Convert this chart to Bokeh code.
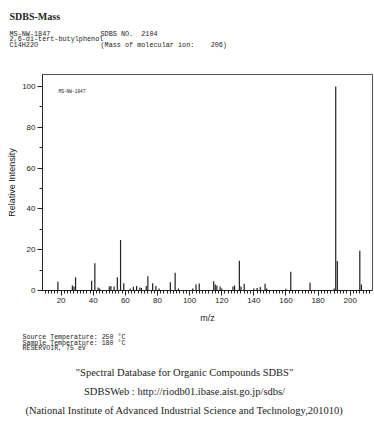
from bokeh.plotting import figure
from bokeh.models import Range1d, Label, SingleIntervalTicker
from bokeh.layouts import column
from bokeh.core.properties import value
from bokeh.embed import file_html
from bokeh.resources import INLINE

# m/z values and relative intensities
mz = [18, 27, 28, 29, 39, 41, 43, 44, 50, 51, 53, 55, 57, 59, 63, 65, 67, 69, 70,
      73, 74, 77, 79, 81, 88, 91, 93, 102, 104, 106, 115, 116, 117, 119, 120,
      127, 128, 131, 132, 134, 140, 142, 144, 147, 148, 160, 163, 175, 190,
      191, 192, 206, 207]
intensity = [4.3, 2.4, 2.0, 6.5, 4.8, 13.3, 1.5, 1.0, 2.0, 2.2, 2.0, 6.5, 24.8, 3.6, 1.0, 1.8, 2.2, 1.5, 1.2,
             2.2, 7.0, 3.6, 2.2, 1.0, 4.0, 8.7, 1.0, 1.0, 3.0, 3.4, 4.5, 3.0, 2.5, 2.0, 1.0,
             2.0, 2.5, 14.6, 2.0, 3.3, 1.0, 1.2, 1.7, 3.3, 1.0, 0.8, 9.2, 3.8, 1.0,
             100.0, 14.5, 19.5, 3.0]

NB = "\u00a0"
header_title = "SDBS-Mass"
header_left = ["MS-NW-1847", "2,6-di-tert-butylphenol", "C14H22O"]
header_right = ["SDBS" + NB + "NO." + NB * 2 + "2104", "",
                "(Mass" + NB + "of" + NB + "molecular" + NB + "ion:" + NB * 4 + "206)"]
inner_code = "MS-NW-1847"
cond_lines = ["Source" + NB + "Temperature:" + NB + "250" + NB + "\u00b0C",
              "Sample" + NB + "Temperature:" + NB + "180" + NB + "\u00b0C",
              "RESERVOIR," + NB + "75" + NB + "eV"]
footer_lines = ["\"Spectral Database for Organic Compounds SDBS\"",
                "SDBSWeb : http://riodb01.ibase.aist.go.jp/sdbs/",
                "(National Institute of Advanced Industrial Science and Technology,201010)"]

W = 374
HEAD_H = 60            # header strip: canvas y 0..60
MAIN_TOP, MAIN_BOT = 60, 330   # spectrum figure: canvas y 60..330
FOOT_H = 421 - MAIN_BOT        # footer strip
FL, FR, FT, FB = 42, 372, 74, 290  # frame edges on canvas
ink = "#222222"


def text_strip(height, y0):
    f = figure(width=W, height=height, output_backend="svg", toolbar_location=None,
               x_axis_type=None, y_axis_type=None,
               x_range=Range1d(0, W), y_range=Range1d(y0 + height, y0),
               min_border=0, min_border_left=0, min_border_right=0,
               min_border_top=0, min_border_bottom=0)
    f.frame_align = False
    f.grid.visible = False
    f.outline_line_color = None
    f.background_fill_color = "white"
    f.border_fill_color = "white"
    return f


def put(f, texts, xs, ys, size, font, align="left", style="normal"):
    f.text(x=xs, y=ys, text=texts, text_font=value(font), text_font_size=value(size),
           text_font_style=style, text_color=ink, text_align=align, text_baseline="middle")


# header
head = text_strip(HEAD_H, 0)
put(head, [header_title], [9], [15.7], "10px", "Liberation Serif", style="bold")
hy = [33.0 + 5.6 * i for i in range(3)]
put(head, header_left, [9] * 3, hy, "6.8px", "Liberation Mono")
put(head, header_right, [100] * 3, hy, "6.8px", "Liberation Mono")

# spectrum
p = figure(width=W, height=MAIN_BOT - MAIN_TOP, output_backend="svg", toolbar_location=None,
           x_range=Range1d(8.4, 213.9), y_range=Range1d(0, 105.9),
           min_border_left=FL, min_border_right=W - FR,
           min_border_top=FT - MAIN_TOP, min_border_bottom=MAIN_BOT - FB)
p.frame_align = False
p.background_fill_color = "white"
p.border_fill_color = "white"
p.outline_line_color = "#555555"
p.outline_line_width = 1
p.xgrid.visible = False
p.ygrid.visible = False

p.segment(x0=mz, y0=[0] * len(mz), x1=mz, y1=intensity, line_color=ink, line_width=1.2)

p.xaxis.ticker = SingleIntervalTicker(interval=20, num_minor_ticks=10)
p.yaxis.ticker = SingleIntervalTicker(interval=20, num_minor_ticks=2)
for ax in (p.xaxis[0], p.yaxis[0]):
    ax.axis_line_color = ink
    ax.major_tick_line_color = ink
    ax.minor_tick_line_color = ink
    ax.major_tick_in = 0
    ax.major_tick_out = 5
    ax.minor_tick_in = 0
    ax.minor_tick_out = 3
    ax.major_label_text_font = "Liberation Sans"
    ax.major_label_text_font_size = "8px"
    ax.major_label_text_color = ink
    ax.major_label_standoff = 2
    ax.axis_label_text_font = "Liberation Sans"
    ax.axis_label_text_font_size = "9px"
    ax.axis_label_text_font_style = "normal"
    ax.axis_label_text_color = ink
p.xaxis.axis_label = "m/z"
p.yaxis.axis_label = "Relative Intensity"
p.xaxis.axis_label_standoff = 7
p.yaxis.axis_label_standoff = 2

p.add_layout(Label(x=58 - FL, y=FB - 91, x_units="screen", y_units="screen",
                   text=inner_code, text_font="Liberation Mono", text_font_size="4.5px",
                   text_color=ink, text_baseline="middle"))

# footer
foot = text_strip(FOOT_H, MAIN_BOT)
put(foot, cond_lines, [22] * 3, [337.2 + 5.3 * i for i in range(3)], "6.6px", "Liberation Mono")
put(foot, footer_lines, [184] * 3, [371.5 + 19 * i for i in range(3)], "10.5px",
    "Liberation Serif", align="center")

layout = column(head, p, foot, spacing=0)
open("out.html", "w").write(file_html(layout, INLINE))
